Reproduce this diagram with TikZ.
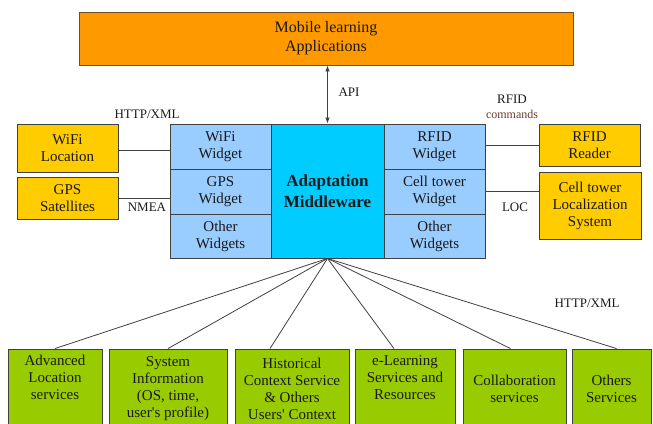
\documentclass[tikz,border=0pt]{standalone}
\usepackage{fontspec}
\setmainfont{Liberation Serif}
\newfontfamily\tnr{Liberation Serif}
\usetikzlibrary{arrows.meta}
\definecolor{apporange}{HTML}{FF9900}
\definecolor{mwcyan}{HTML}{00CCFF}
\definecolor{wblue}{HTML}{99CCFF}
\definecolor{yel}{HTML}{FFCC00}
\definecolor{grn}{HTML}{99CC00}
\definecolor{bord}{HTML}{404040}
\definecolor{txt}{HTML}{1A1A1A}
\definecolor{brn}{HTML}{6B3A2A}
\tikzset{
  box/.style={draw=bord, line width=0.9pt, inner sep=0pt, align=center, text=txt,
    font=\tnr\fontsize{15}{17}\selectfont},
  appbox/.style={box, fill=apporange, draw=brown!60!black, font=\tnr\fontsize{16}{19}\selectfont},
  mwbox/.style={box, fill=mwcyan, font=\tnr\fontsize{17}{21}\selectfont\bfseries},
  widget/.style={box, fill=wblue, minimum width=101pt},
  yelbox/.style={box, fill=yel, minimum width=101pt},
  svc/.style={box, fill=grn, minimum height=79pt},
  lbl/.style={inner sep=0pt, text=txt, font=\tnr\fontsize{13}{15}\selectfont, align=center},
  conn/.style={draw=bord, line width=0.8pt}
}
\begin{document}
\begin{tikzpicture}[x=1pt,y=-1pt]
\useasboundingbox (0,0) rectangle (653,423);
\begin{scope}
\clip (0,0) rectangle (653,423);
% top
\node[appbox, minimum width=494pt, minimum height=53pt] (app) at (326,38.5) {Mobile learning\\Applications};
% middleware
\node[mwbox, minimum width=113pt, minimum height=134pt] (mw) at (327.5,191) {Adaptation\\Middleware};
% left widgets
\node[widget, minimum height=45pt] (wifiw) at (220.5,146.5) {WiFi\\Widget};
\node[widget, minimum height=45pt] (gpsw) at (220.5,191.5) {GPS\\Widget};
\node[widget, minimum height=44pt] (othl) at (220.5,236) {Other\\Widgets};
% right widgets
\node[widget, minimum height=45pt] (rfidw) at (434.5,146.5) {RFID\\Widget};
\node[widget, minimum height=45pt] (cellw) at (434.5,191.5) {Cell tower\\Widget};
\node[widget, minimum height=44pt] (othr) at (434.5,236) {Other\\Widgets};
% yellow boxes
\node[yelbox, minimum height=48pt] (wifiloc) at (67.5,148) {WiFi\\Location};
\node[yelbox, minimum height=42pt] (gpssat) at (67.5,198) {GPS\\Satellites};
\node[yelbox, minimum height=42pt] (reader) at (589.5,145) {RFID\\Reader};
\node[yelbox, minimum width=102pt, minimum height=67pt] (cellsys) at (590,205.5) {Cell tower\\Localization\\System};
% side connectors
\draw[conn] ([yshift=-3.5pt]wifiw.west) -- ([yshift=-3.5pt]wifiw.west -| wifiloc.east);
\draw[conn] (gpssat.east) -- (gpssat.east -| gpsw.west);
\draw[conn] (reader.west) -- (reader.west -| rfidw.east);
\draw[conn] (cellw.east) -- (cellw.east -| cellsys.west);
% API arrow
\draw[conn, {Latex[length=6pt,width=4.5pt]}-{Latex[length=6pt,width=4.5pt]}] (app.south -| mw.north) -- (mw.north);
\node[lbl] (api) at (349,92) {API};
% labels
\node[lbl] (httpl) at (147,114) {HTTP/XML};
\node[lbl] (nmea) at (147,207) {NMEA};
\node[lbl] (rfidc) at (512,107) {RFID\\{\color{brn}\fontsize{12}{14}\selectfont commands}};
\node[lbl] (loc) at (515,207) {LOC};
\node[lbl] (httpb) at (587,303) {HTTP/XML};
% bottom services
\node[svc, minimum width=94pt] (b1) at (55,388.5) {Advanced\\Location\\services\\\strut};
\node[svc, minimum width=118pt] (b2) at (168,388.5) {System\\Information\\(OS, time,\\user's profile)};
\node[svc, minimum width=114pt] (b3) at (292,388.5) {Historical\\Context Service\\\&\ Others\\Users' Context};
\node[svc, minimum width=100pt] (b4) at (405,388.5) {e-Learning\\Services and\\Resources\\\strut};
\node[svc, minimum width=103pt] (b5) at (514.5,388.5) {Collaboration\\services};
\node[svc, minimum width=79pt] (b6) at (611.5,388.5) {Others\\Services};
% fan connectors
\draw[conn] (mw.south) -- (b1.north);
\draw[conn] (mw.south) -- (b2.north);
\draw[conn] (mw.south) -- ([xshift=-22pt]b3.north);
\draw[conn] (mw.south) -- ([xshift=-11pt]b4.north);
\draw[conn] (mw.south) -- ([xshift=-4pt]b5.north);
\draw[conn] (mw.south) -- ([xshift=5pt]b6.north);
\end{scope}
\end{tikzpicture}
\end{document}
